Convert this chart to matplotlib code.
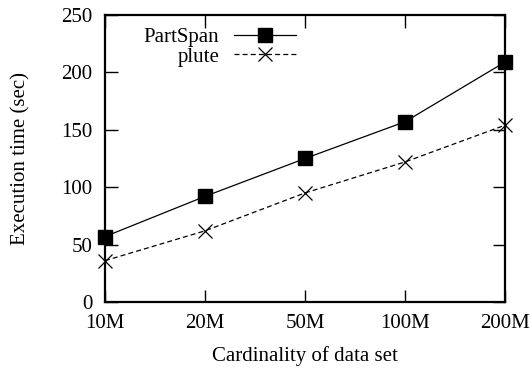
from matplotlib import pyplot as plt

# --------------------------- Data ---------------------------
categories = ['10M', '20M', '50M', '100M', '200M']
partspan = [57, 92, 125, 157, 209]
plute = [36, 62, 95, 122, 154]
yticks = [0, 50, 100, 150, 200, 250]

plt.rcParams['font.family'] = ['Liberation Serif', 'DejaVu Serif']
plt.rcParams['font.size'] = 15

fig = plt.figure(figsize=(5.30, 3.68), dpi=100)
ax = fig.add_axes([105 / 530, 1 - 302 / 368, 400 / 530, 287 / 368])

index = list(range(len(categories)))
ax.plot(index, partspan, color='k', lw=0.9, marker='s', markersize=10,
        label='PartSpan', clip_on=False)
ax.plot(index, plute, color='k', lw=0.9, ls=(0, (4, 2.5)), marker='x',
        markersize=10, markeredgewidth=0.9, label='plute', clip_on=False)

ax.set_xlim(0, len(categories) - 1)
ax.set_ylim(0, 250)
ax.set_xticks(index)
ax.set_xticklabels(categories)
ax.set_yticks(yticks)
ax.tick_params(direction='in', length=9, width=1, top=True, right=True)
ax.tick_params(axis='y', pad=9)
ax.tick_params(axis='x', pad=9)
for sp in ax.spines.values():
    sp.set_linewidth(1.6)

ax.set_xlabel('Cardinality of data set', labelpad=9)
ax.set_ylabel('Execution time (sec)', labelpad=22)

leg = ax.legend(loc='upper left', bbox_to_anchor=(0.065, 1.0), frameon=False,
                markerfirst=False, handlelength=3.0, handletextpad=0.7,
                labelspacing=0.0, borderaxespad=0.2)
for t in leg.get_texts():
    t.set_ha('right')
leg._legend_box.align = 'right'

fig.savefig('out.png', dpi=100)
